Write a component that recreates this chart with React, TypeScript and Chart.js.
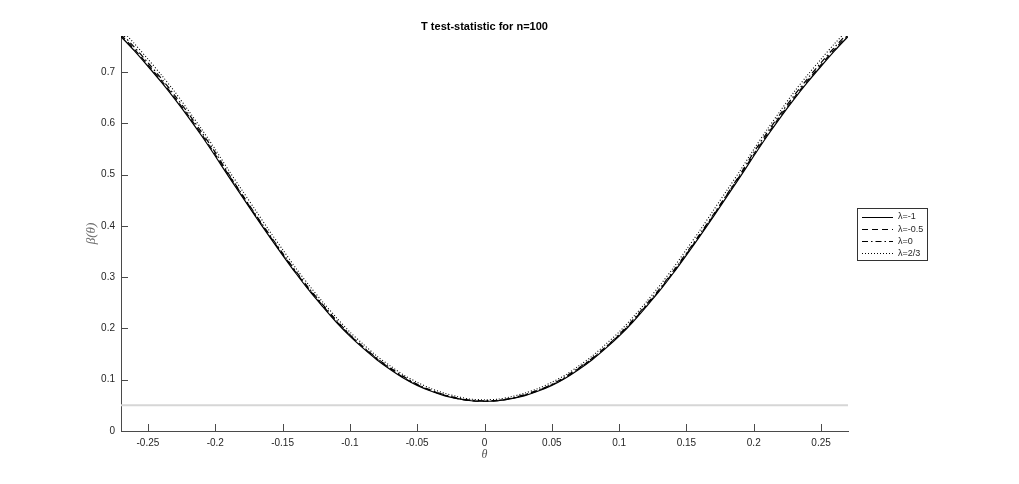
import React, { useEffect, useRef } from "react";
import { Chart, registerables } from "chart.js";

Chart.register(...registerables);

const thetas = [
  -0.27, -0.26, -0.25, -0.24, -0.23, -0.22, -0.21, -0.2, -0.19, -0.18, -0.17, -0.16, -0.15, -0.14,
  -0.13, -0.12, -0.11, -0.1, -0.09, -0.08, -0.07, -0.06, -0.05, -0.04, -0.03, -0.02, -0.01, 0,
  0.01, 0.02, 0.03, 0.04, 0.05, 0.06, 0.07, 0.08, 0.09, 0.1, 0.11, 0.12, 0.13, 0.14, 0.15, 0.16,
  0.17, 0.18, 0.19, 0.2, 0.21, 0.22, 0.23, 0.24, 0.25, 0.26, 0.27,
];

const powerLamMinus1 = [
  0.769, 0.741, 0.711, 0.68, 0.647, 0.612, 0.575, 0.536, 0.496, 0.457, 0.418, 0.38, 0.343, 0.307,
  0.273, 0.242, 0.212, 0.185, 0.161, 0.139, 0.12, 0.103, 0.089, 0.078, 0.069, 0.063, 0.059, 0.058,
  0.059, 0.063, 0.069, 0.078, 0.089, 0.103, 0.12, 0.139, 0.161, 0.185, 0.212, 0.242, 0.273, 0.307,
  0.343, 0.38, 0.418, 0.457, 0.496, 0.536, 0.575, 0.612, 0.647, 0.68, 0.711, 0.741, 0.769,
];

const powerLamMinusHalf = [
  0.772, 0.744, 0.714, 0.683, 0.65, 0.615, 0.578, 0.539, 0.499, 0.46, 0.42, 0.382, 0.345, 0.309,
  0.275, 0.244, 0.214, 0.187, 0.163, 0.141, 0.122, 0.104, 0.09, 0.079, 0.07, 0.063, 0.059, 0.058,
  0.059, 0.063, 0.07, 0.079, 0.09, 0.104, 0.122, 0.141, 0.163, 0.187, 0.214, 0.244, 0.275, 0.309,
  0.345, 0.382, 0.42, 0.46, 0.499, 0.539, 0.578, 0.615, 0.65, 0.683, 0.714, 0.744, 0.772,
];

const powerLamZero = [
  0.776, 0.748, 0.718, 0.687, 0.654, 0.619, 0.582, 0.543, 0.501, 0.461, 0.422, 0.384, 0.347, 0.311,
  0.277, 0.246, 0.216, 0.188, 0.164, 0.142, 0.123, 0.106, 0.091, 0.08, 0.071, 0.064, 0.06, 0.059,
  0.06, 0.064, 0.071, 0.08, 0.091, 0.106, 0.123, 0.142, 0.164, 0.188, 0.216, 0.246, 0.277, 0.311,
  0.347, 0.384, 0.422, 0.461, 0.501, 0.543, 0.582, 0.619, 0.654, 0.687, 0.718, 0.748, 0.776,
];

const powerLamTwoThirds = [
  0.783, 0.755, 0.725, 0.694, 0.661, 0.625, 0.588, 0.549, 0.508, 0.469, 0.43, 0.391, 0.354, 0.317,
  0.283, 0.251, 0.221, 0.193, 0.169, 0.146, 0.127, 0.109, 0.095, 0.083, 0.074, 0.067, 0.062, 0.061,
  0.062, 0.067, 0.074, 0.083, 0.095, 0.109, 0.127, 0.146, 0.169, 0.193, 0.221, 0.251, 0.283, 0.317,
  0.354, 0.391, 0.43, 0.469, 0.508, 0.549, 0.588, 0.625, 0.661, 0.694, 0.725, 0.755, 0.783,
];

const sizeLevel = [0.05, 0.05];
const sizeLevelTheta = [-0.27, 0.27];

const seriesNames = ["λ=-1", "λ=-0.5", "λ=0", "λ=2/3"];
const seriesDashes = [[], [6, 4], [6, 3, 1.5, 3], [1, 2]];

const xTickValues = [-0.25, -0.2, -0.15, -0.1, -0.05, 0, 0.05, 0.1, 0.15, 0.2, 0.25];
const xTickLabels = ["-0.25", "-0.2", "-0.15", "-0.1", "-0.05", "0", "0.05", "0.1", "0.15", "0.2", "0.25"];
const yTickValues = [0, 0.1, 0.2, 0.3, 0.4, 0.5, 0.6, 0.7];
const yTickLabels = ["0", "0.1", "0.2", "0.3", "0.4", "0.5", "0.6", "0.7"];

const titleText = "T test-statistic for n=100";
const xLabel = "θ";
const yLabel = "β(θ)";

const AXIS_COLOR = "#4a4a4a";
const TEXT_COLOR = "#262626";
const SANS = "'Liberation Sans', Arial, Helvetica, sans-serif";
const SERIF = "'Liberation Serif', 'DejaVu Serif', serif";

const decorPlugin = {
  id: "decor",
  afterDraw(chart: any) {
    const { ctx, chartArea, scales } = chart;
    const xs = scales.x;
    const ys = scales.y;
    ctx.save();
    // inward tick marks
    ctx.strokeStyle = AXIS_COLOR;
    ctx.lineWidth = 1;
    ctx.beginPath();
    xTickValues.forEach((v) => {
      const px = Math.round(xs.getPixelForValue(v)) + 0.5;
      ctx.moveTo(px, chartArea.bottom);
      ctx.lineTo(px, chartArea.bottom - 7);
    });
    yTickValues.forEach((v) => {
      const py = Math.round(ys.getPixelForValue(v)) + 0.5;
      ctx.moveTo(chartArea.left, py);
      ctx.lineTo(chartArea.left + 7, py);
    });
    ctx.stroke();

    // title
    ctx.fillStyle = "#000";
    ctx.font = `bold 11px ${SANS}`;
    ctx.textAlign = "center";
    ctx.textBaseline = "middle";
    ctx.fillText(titleText, (chartArea.left + chartArea.right) / 2, 27);

    // y label
    ctx.save();
    ctx.translate(92, (chartArea.top + chartArea.bottom) / 2);
    ctx.rotate(-Math.PI / 2);
    ctx.fillStyle = "#6a6a6a";
    ctx.font = `italic 13px ${SERIF}`;
    ctx.fillText(yLabel, 0, 0);
    ctx.restore();

    // legend
    const bx = chartArea.right + 9;
    const bw = 70;
    const bh = 52;
    const by = Math.round((chartArea.top + chartArea.bottom) / 2 - bh / 2);
    ctx.fillStyle = "#fff";
    ctx.fillRect(bx, by, bw, bh);
    ctx.strokeStyle = "#333";
    ctx.lineWidth = 1;
    ctx.strokeRect(bx + 0.5, by + 0.5, bw, bh);
    ctx.font = `9px ${SANS}`;
    ctx.textAlign = "left";
    ctx.textBaseline = "middle";
    seriesNames.forEach((name, i) => {
      const ry = by + 8.5 + i * 12.3;
      ctx.strokeStyle = "#000";
      ctx.lineWidth = 1;
      ctx.setLineDash(seriesDashes[i]);
      ctx.beginPath();
      ctx.moveTo(bx + 5, Math.round(ry) + 0.5);
      ctx.lineTo(bx + 36, Math.round(ry) + 0.5);
      ctx.stroke();
      ctx.setLineDash([]);
      ctx.fillStyle = TEXT_COLOR;
      ctx.fillText(name, bx + 41, ry + 0.5);
    });
    ctx.restore();
  },
};

export default function App() {
  const canvasRef = useRef<HTMLCanvasElement | null>(null);

  useEffect(() => {
    if (!canvasRef.current) return;
    const curves = [powerLamMinus1, powerLamMinusHalf, powerLamZero, powerLamTwoThirds];
    const datasets: any[] = curves.map((vals, i) => ({
      label: seriesNames[i],
      data: thetas.map((t, j) => ({ x: t, y: vals[j] })),
      borderColor: "#000",
      borderWidth: i === 3 ? 1.1 : 1.2,
      borderDash: seriesDashes[i],
      pointRadius: 0,
      tension: 0.3,
      fill: false,
    }));
    datasets.push({
      label: "size",
      data: sizeLevelTheta.map((t, j) => ({ x: t, y: sizeLevel[j] })),
      borderColor: "#d6d6d6",
      borderWidth: 2,
      pointRadius: 0,
      fill: false,
    });

    const chart = new Chart(canvasRef.current, {
      type: "line",
      data: { datasets },
      plugins: [decorPlugin],
      options: {
        animation: false,
        responsive: true,
        maintainAspectRatio: false,
        layout: { padding: { top: 36, right: 171, left: 0, bottom: 0 } },
        plugins: {
          legend: { display: false },
          title: { display: false },
          tooltip: { enabled: false },
        },
        scales: {
          x: {
            type: "linear",
            min: -0.27,
            max: 0.27,
            afterBuildTicks: (scale: any) => {
              scale.ticks = xTickValues.map((v) => ({ value: v }));
            },
            afterFit: (scale: any) => {
              scale.height = 53;
            },
            grid: { display: false, drawTicks: false },
            border: { display: true, color: AXIS_COLOR, width: 1 },
            ticks: {
              padding: 6,
              color: TEXT_COLOR,
              font: { family: SANS, size: 10 },
              maxRotation: 0,
              autoSkip: false,
              callback: (_v: any, i: number) => xTickLabels[i],
            },
            title: {
              display: true,
              text: xLabel,
              color: "#555",
              font: { family: SERIF, size: 12, style: "italic" },
              padding: { top: 0, bottom: 22 },
            },
          },
          y: {
            type: "linear",
            min: 0,
            max: 0.77,
            afterBuildTicks: (scale: any) => {
              scale.ticks = yTickValues.map((v) => ({ value: v }));
            },
            afterFit: (scale: any) => {
              scale.width = 121;
            },
            grid: { display: false, drawTicks: false },
            border: { display: true, color: AXIS_COLOR, width: 1 },
            ticks: {
              padding: 6,
              color: TEXT_COLOR,
              font: { family: SANS, size: 10 },
              autoSkip: false,
              callback: (_v: any, i: number) => yTickLabels[i],
            },
          },
        },
      },
    });
    return () => chart.destroy();
  }, []);

  return (
    <div style={{ position: "fixed", left: 0, top: 0, width: 1019, height: 484, background: "#fff" }}>
      <canvas ref={canvasRef} />
    </div>
  );
}
